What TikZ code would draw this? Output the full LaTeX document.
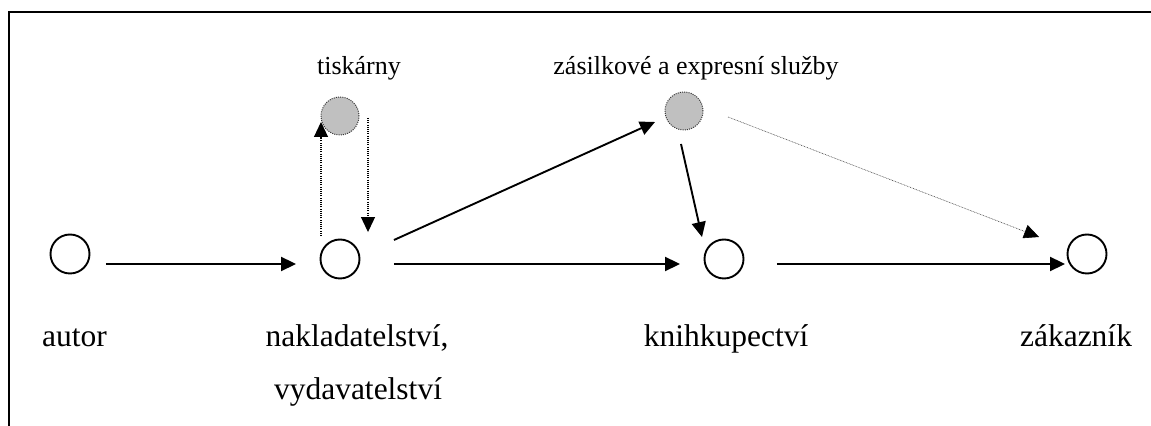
\documentclass[tikz,border=0pt]{standalone}
\usepackage{fontspec}
\setmainfont{Liberation Serif}
\usetikzlibrary{arrows.meta}

\tikzset{
  place/.style={circle, draw, line width=0.95pt, minimum size=19.5pt, inner sep=0pt},
  service/.style={circle, fill={rgb,255:red,192;green,192;blue,192}, draw=black!80,
    line width=0.5pt, dash pattern=on 0.5pt off 0.6pt, minimum size=19pt, inner sep=0pt},
  bigtext/.style={anchor=base, inner sep=0pt, font=\fontsize{15.75pt}{18pt}\selectfont},
  smalltext/.style={anchor=base, inner sep=0pt, font=\fontsize{13pt}{15pt}\selectfont},
  tip/.style={-{Triangle[length=7.5pt,width=7pt,color=black]}},
  flow/.style={tip, line width=0.95pt},
  printflow/.style={tip, line width=0.55pt, dash pattern=on 0.5pt off 0.6pt},
  thinflow/.style={tip, line width=0.3pt, draw=black!70, dash pattern=on 0.4pt off 0.4pt}
}

\begin{document}
\begin{tikzpicture}[x=0.5pt, y=-0.5pt]
  \useasboundingbox (0,0) rectangle (1151,426);

  % open frame: top and left edges
  \draw[line width=1pt] (9,426) -- (9,12) -- (1151,12);

  % places of the chain
  \node[place] (autor) at (70,254) {};
  \node[place] (nakl)  at (340,259) {};
  \node[place] (knih)  at (724,259) {};
  \node[place] (zak)   at (1087,254) {};

  % services
  \node[service] (tisk) at (340,116) {};
  \node[service] (zas)  at (684,111) {};

  % labels
  \node[bigtext] (lautor) at (74.5,347) {autor};
  \node[bigtext] (lnakl)  at (357,347) {nakladatelství,};
  \node[bigtext] (lvyd)   at (358,400) {vydavatelství};
  \node[bigtext] (lknih)  at (726,347) {knihkupectví};
  \node[bigtext] (lzak)   at (1076,347) {zákazník};
  \node[smalltext] (ltisk) at (359,75) {tiskárny};
  \node[smalltext] (lzas)  at (696,75) {zásilkové a expresní služby};

  % main flow
  \draw[flow] ([shift={(15.5,10)}]autor.east) -- ([shift={(-23.5,5)}]nakl.west);
  \draw[flow] ([shift={(33.5,5)}]nakl.east) -- ([shift={(-23.5,5)}]knih.west);
  \draw[flow] ([shift={(32.5,5)}]knih.east) -- ([shift={(-1.5,10)}]zak.west);

  % via delivery services
  \draw[flow] ([shift={(33.5,-19)}]nakl.east) -- ([shift={(-9.5,11)}]zas.west);
  \draw[flow] ([shift={(-3,13.5)}]zas.south) -- ([shift={(-22,-1.5)}]knih.north);
  \draw[thinflow] ([shift={(24.5,6)}]zas.east) -- ([shift={(-27.5,-17)}]zak.west);

  % printing house round trip
  \draw[printflow] ([shift={(-19,-2.5)}]nakl.north) -- ([shift={(0.5,6)}]tisk.west);
  \draw[printflow] ([shift={(8.5,2)}]tisk.east) -- ([shift={(28,-6.5)}]nakl.north);
\end{tikzpicture}
\end{document}
